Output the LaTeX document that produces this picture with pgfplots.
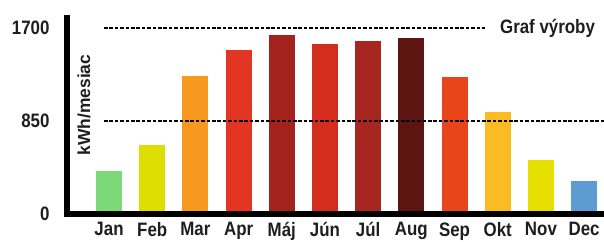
\documentclass[border=0pt]{standalone}
\usepackage{pgfplots}
\pgfplotsset{compat=1.18}
\usepackage{fontspec}
\setmainfont{Liberation Sans}
\newfontfamily\lab{Liberation Sans}[FakeStretch=0.87]
\definecolor{cJan}{HTML}{7DD87A}
\definecolor{cFeb}{HTML}{DEDE00}
\definecolor{cMar}{HTML}{F7981F}
\definecolor{cApr}{HTML}{E23523}
\definecolor{cMaj}{HTML}{A3231C}
\definecolor{cJun}{HTML}{D42C1D}
\definecolor{cJul}{HTML}{A82620}
\definecolor{cAug}{HTML}{5C1511}
\definecolor{cSep}{HTML}{E8461A}
\definecolor{cOkt}{HTML}{FBBB22}
\definecolor{cNov}{HTML}{E6E000}
\definecolor{cDec}{HTML}{5E9BD3}
\definecolor{txt}{HTML}{1E1E1E}
\begin{document}
\begin{tikzpicture}
\useasboundingbox (0,0) rectangle (604bp,242bp);
\begin{axis}[
  at={(67bp,28bp)}, anchor=south west,
  scale only axis, width=537bp, height=199bp,
  xmin=-0.973, xmax=11.46, ymin=0, ymax=1819,
  axis lines=none, clip=false,
  ytick={0,850,1700}, yticklabels={0,850,1700},
  xtick={0,...,11},
  xticklabels={Jan,Feb,Mar,Apr,Máj,Jún,Júl,Aug,Sep,Okt,Nov,Dec},
  major tick length=0pt,
  /pgf/number format/assume math mode=true,
  ticklabel style={font=\lab\bfseries\fontsize{19.5}{19.5}\selectfont, text=txt},
  xticklabel style={anchor=north, yshift=-5bp},
  yticklabel style={anchor=east, xshift=-14bp},
  hide axis=false,
]
\addplot[ybar, bar width=26bp, fill=cJan, draw=none] coordinates {(0,393)};
\addplot[ybar, bar width=26bp, fill=cFeb, draw=none] coordinates {(1,631)};
\addplot[ybar, bar width=26bp, fill=cMar, draw=none] coordinates {(2,1261)};
\addplot[ybar, bar width=26bp, fill=cApr, draw=none] coordinates {(3,1499)};
\addplot[ybar, bar width=26bp, fill=cMaj, draw=none] coordinates {(4,1636)};
\addplot[ybar, bar width=26bp, fill=cJun, draw=none] coordinates {(5,1554)};
\addplot[ybar, bar width=26bp, fill=cJul, draw=none] coordinates {(6,1581)};
\addplot[ybar, bar width=26bp, fill=cAug, draw=none] coordinates {(7,1609)};
\addplot[ybar, bar width=26bp, fill=cSep, draw=none] coordinates {(8,1252)};
\addplot[ybar, bar width=26bp, fill=cOkt, draw=none] coordinates {(9,932)};
\addplot[ybar, bar width=26bp, fill=cNov, draw=none] coordinates {(10,494)};
\addplot[ybar, bar width=26bp, fill=cDec, draw=none] coordinates {(11,302)};
\addplot[black, line width=2.6bp, dash pattern=on 3.6bp off 1.8bp] coordinates {(-0.116,1700) (8.71,1700)};
\addplot[black, line width=2.6bp, dash pattern=on 3.6bp off 1.8bp] coordinates {(-0.116,850) (11.46,850)};
\draw[black, line width=6bp, line join=miter] (rel axis cs:0,1) -- (rel axis cs:0,0) -- (rel axis cs:1,0);
\node[anchor=west, inner sep=0pt, text=txt, font=\lab\bfseries\fontsize{19.5}{19.5}\selectfont] at (axis cs:9.05,1700) {Graf výroby};
\node[rotate=90, anchor=center, inner sep=0pt, text=txt, font=\bfseries\fontsize{17.5}{17.5}\selectfont] at (axis cs:-0.58,996) {kWh/mesiac};
\end{axis}
\end{tikzpicture}
\end{document}
